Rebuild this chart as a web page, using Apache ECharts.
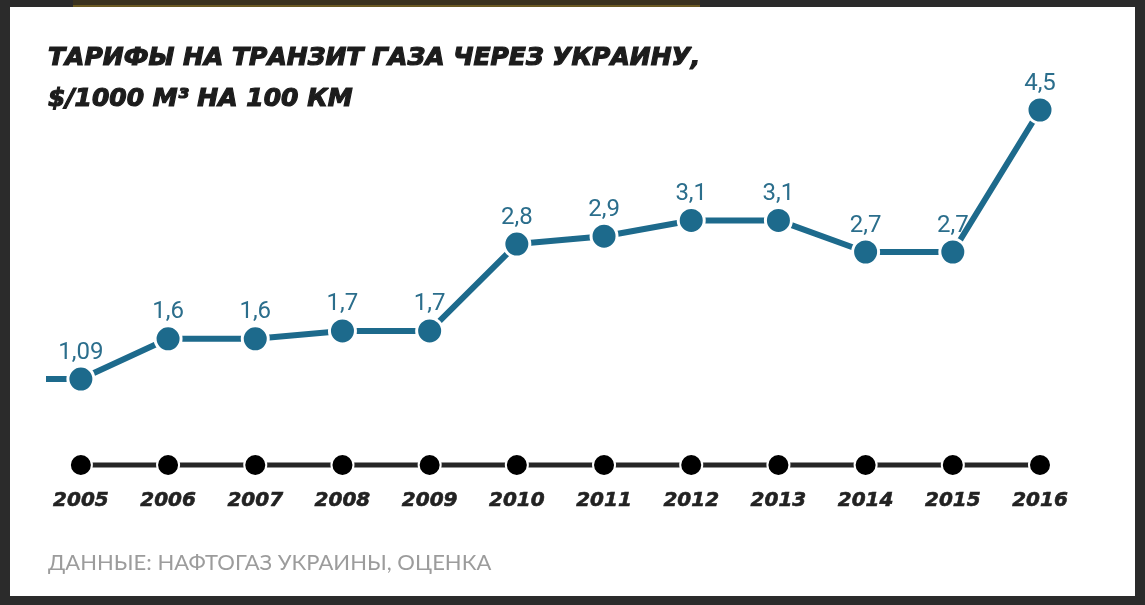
<!DOCTYPE html>
<html>
<head>
<meta charset="utf-8">
<script src="https://cdn.jsdelivr.net/npm/echarts@6/dist/echarts.min.js"></script>
<style>
  html, body { margin: 0; padding: 0; background: #2b2b2b; }
  #chart { width: 1145px; height: 605px; }
</style>
</head>
<body>
<div id="chart"></div>
<script>
// ---- data ----
var years = [2005, 2006, 2007, 2008, 2009, 2010, 2011, 2012, 2013, 2014, 2015, 2016];
var tariffs = [1.09, 1.6, 1.6, 1.7, 1.7, 2.8, 2.9, 3.1, 3.1, 2.7, 2.7, 4.5];
var leadInStart = 2004.6; // line enters from the left edge (cropped earlier segment)
var titleText = "ТАРИФЫ НА ТРАНЗИТ ГАЗА ЧЕРЕЗ УКРАИНУ,\n$/1000 М³ НА 100 КМ";
var sourceText = "ДАННЫЕ: НАФТОГАЗ УКРАИНЫ, ОЦЕНКА";

var teal = '#1d6a8c';

var mainData = years.map(function (y, i) { return [y, tariffs[i]]; });
var timelineData = years.map(function (y) { return [y, 0]; });
var leadInData = [[leadInStart, tariffs[0]], [years[0], tariffs[0]]];

var chart = echarts.init(document.getElementById('chart'), null, { renderer: 'canvas' });
chart.setOption({
  backgroundColor: '#2b2b2b',
  animation: false,
  graphic: [
    { type: 'rect', shape: { x: 10, y: 7, width: 1125, height: 589 }, style: { fill: '#ffffff' }, z: -10 },
    { type: 'rect', shape: { x: 73, y: 0, width: 627, height: 6 }, style: { fill: '#3a321e' }, z: -10 },
    { type: 'rect', shape: { x: 73, y: 5, width: 627, height: 2 }, style: { fill: '#6b5a22' }, z: -10 },
    { type: 'text', left: 48, top: 552, style: { text: sourceText, fill: '#9c9c9c', font: '22px Lato, "Open Sans", sans-serif' } }
  ],
  title: {
    text: titleText,
    left: 43,
    top: 33,
    textStyle: {
      fontFamily: '"DejaVu Sans", sans-serif',
      fontWeight: 'bold',
      fontStyle: 'italic',
      fontSize: 25,
      lineHeight: 41,
      color: '#1c1c1c',
      textBorderColor: '#1c1c1c',
      textBorderWidth: 1.2
    }
  },
  grid: { left: 46, right: 105, top: 110, bottom: 140, containLabel: false },
  xAxis: {
    type: 'value',
    min: leadInStart,
    max: 2016,
    axisLine: { show: false },
    axisTick: { show: false },
    splitLine: { show: false },
    axisLabel: {
      customValues: years,
      margin: 26,
      formatter: function (v) { return String(v); },
      fontFamily: '"DejaVu Sans", sans-serif',
      fontWeight: 'bold',
      fontStyle: 'italic',
      fontSize: 20,
      color: '#222222',
      textBorderColor: '#222222',
      textBorderWidth: 0.6
    }
  },
  yAxis: {
    type: 'value',
    min: 0,
    max: 4.5,
    show: false,
    splitLine: { show: false }
  },
  series: [
    {
      name: 'timeline',
      type: 'line',
      data: timelineData,
      symbol: 'circle',
      symbolSize: 22,
      clip: false,
      lineStyle: { color: '#262626', width: 5 },
      itemStyle: { color: '#000000', borderColor: '#ffffff', borderWidth: 2 },
      z: 2
    },
    {
      name: 'leadIn',
      type: 'line',
      data: leadInData,
      symbol: 'none',
      clip: false,
      lineStyle: { color: teal, width: 6 },
      z: 3
    },
    {
      name: 'tariff',
      type: 'line',
      data: mainData,
      symbol: 'circle',
      symbolSize: 26,
      clip: false,
      lineStyle: { color: teal, width: 6 },
      itemStyle: { color: teal, borderColor: '#ffffff', borderWidth: 3 },
      label: {
        show: true,
        position: 'top',
        distance: 0,
        formatter: function (p) { return String(p.value[1]).replace('.', ','); },
        fontFamily: 'Roboto, sans-serif',
        fontSize: 24,
        color: '#2b6e8c'
      },
      z: 4
    }
  ]
});
</script>
</body>
</html>
